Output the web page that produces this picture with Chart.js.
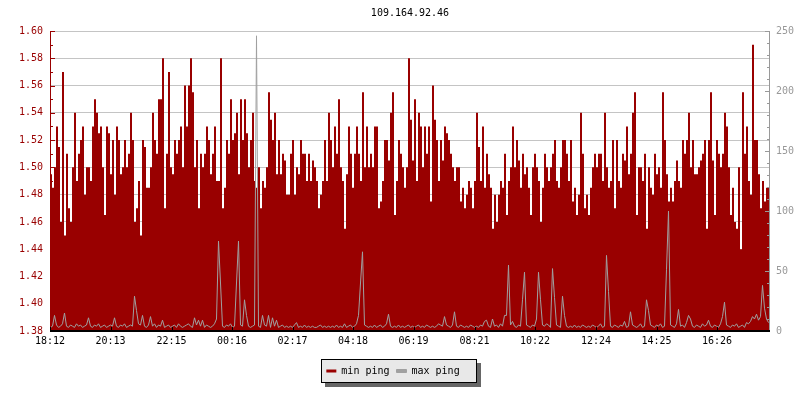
<!DOCTYPE html>
<html>
<head>
<meta charset="utf-8">
<title>109.164.92.46</title>
<script src="https://cdn.jsdelivr.net/npm/chart.js@4.4.1/dist/chart.umd.min.js"></script>
<style>
  html, body { margin: 0; padding: 0; background: #fff; }
</style>
</head>
<body>
<canvas id="ping-chart" width="800" height="400"></canvas>
<script>
/* Data */
const chartTitle = '109.164.92.46';
const startTime = '18:12';
const stepMinutes = 4;   // one sample every 4 minutes
const dayMinutes = 1440;
const timeLabels = ['18:12', '20:13', '22:15', '00:16', '02:17', '04:18',
                    '06:19', '08:21', '10:22', '12:24', '14:25', '16:26'];
const seriesNames = ['min ping', 'max ping'];

// min ping, left axis
const minPing = [
  1.48, 1.495, 1.485, 1.50, 1.53, 1.515, 1.46, 1.57, 1.45, 1.51,
  1.47, 1.46, 1.50, 1.54, 1.49, 1.51, 1.52, 1.53, 1.48, 1.50,
  1.50, 1.49, 1.53, 1.55, 1.54, 1.525, 1.53, 1.50, 1.465, 1.53,
  1.525, 1.495, 1.52, 1.48, 1.53, 1.52, 1.495, 1.50, 1.52, 1.50,
  1.51, 1.54, 1.52, 1.46, 1.47, 1.49, 1.45, 1.52, 1.515, 1.485,
  1.485, 1.50, 1.54, 1.52, 1.51, 1.55, 1.55, 1.58, 1.47, 1.51,
  1.57, 1.50, 1.495, 1.52, 1.51, 1.52, 1.53, 1.50, 1.56, 1.53,
  1.56, 1.58, 1.555, 1.50, 1.52, 1.47, 1.51, 1.50, 1.51, 1.53,
  1.52, 1.495, 1.51, 1.53, 1.49, 1.49, 1.58, 1.47, 1.485, 1.52,
  1.51, 1.55, 1.52, 1.525, 1.54, 1.495, 1.55, 1.52, 1.55, 1.525,
  1.50, 1.52, 1.54, 1.49, 1.485, 1.50, 1.47, 1.49, 1.485, 1.50,
  1.555, 1.535, 1.52, 1.54, 1.495, 1.52, 1.495, 1.51, 1.505, 1.48,
  1.48, 1.51, 1.52, 1.48, 1.50, 1.495, 1.52, 1.51, 1.51, 1.49,
  1.51, 1.49, 1.505, 1.50, 1.49, 1.47, 1.48, 1.49, 1.52, 1.49,
  1.54, 1.52, 1.50, 1.53, 1.51, 1.55, 1.50, 1.49, 1.455, 1.495,
  1.53, 1.51, 1.485, 1.51, 1.53, 1.51, 1.49, 1.555, 1.50, 1.53,
  1.50, 1.51, 1.50, 1.53, 1.53, 1.47, 1.475, 1.49, 1.52, 1.52,
  1.505, 1.54, 1.555, 1.465, 1.49, 1.52, 1.51, 1.50, 1.485, 1.50,
  1.58, 1.535, 1.505, 1.55, 1.49, 1.54, 1.53, 1.50, 1.53, 1.51,
  1.53, 1.475, 1.56, 1.535, 1.52, 1.49, 1.52, 1.505, 1.53, 1.525,
  1.52, 1.51, 1.50, 1.49, 1.50, 1.50, 1.475, 1.485, 1.47, 1.48,
  1.49, 1.485, 1.47, 1.49, 1.54, 1.515, 1.49, 1.53, 1.485, 1.51,
  1.495, 1.485, 1.455, 1.48, 1.46, 1.48, 1.49, 1.485, 1.51, 1.465,
  1.49, 1.50, 1.53, 1.50, 1.52, 1.505, 1.485, 1.51, 1.495, 1.50,
  1.485, 1.465, 1.50, 1.51, 1.50, 1.49, 1.46, 1.485, 1.51, 1.50,
  1.49, 1.50, 1.51, 1.52, 1.49, 1.485, 1.50, 1.52, 1.52, 1.51,
  1.49, 1.52, 1.475, 1.485, 1.465, 1.48, 1.54, 1.51, 1.47, 1.48,
  1.465, 1.485, 1.50, 1.51, 1.50, 1.51, 1.51, 1.49, 1.54, 1.50,
  1.485, 1.49, 1.52, 1.47, 1.52, 1.49, 1.485, 1.51, 1.505, 1.53,
  1.495, 1.51, 1.54, 1.555, 1.465, 1.50, 1.50, 1.49, 1.51, 1.455,
  1.50, 1.485, 1.48, 1.51, 1.495, 1.50, 1.485, 1.555, 1.52, 1.495,
  1.475, 1.485, 1.475, 1.49, 1.505, 1.49, 1.485, 1.52, 1.51, 1.52,
  1.54, 1.50, 1.52, 1.495, 1.495, 1.50, 1.505, 1.51, 1.52, 1.455,
  1.52, 1.555, 1.505, 1.465, 1.52, 1.51, 1.50, 1.51, 1.54, 1.53,
  1.50, 1.465, 1.485, 1.46, 1.455, 1.50, 1.44, 1.555, 1.51, 1.53,
  1.49, 1.48, 1.59, 1.52, 1.52, 1.495, 1.47, 1.49, 1.475, 1.485
];

// max ping, right axis
const maxPing = [
  3, 4, 13, 5, 3, 4, 6, 15, 4, 3, 5, 4, 3, 6, 4, 5, 3, 4, 5, 11,
  4, 3, 5, 4, 6, 3, 4, 5, 3, 4, 5, 4, 11, 4, 3, 5, 4, 6, 3, 4,
  5, 4, 29, 17, 6, 5, 13, 4, 3, 5, 12, 4, 6, 3, 5, 4, 9, 3, 4, 5,
  3, 4, 5, 3, 6, 4, 3, 4, 5, 6, 4, 3, 11, 5, 9, 4, 9, 3, 5, 4,
  3, 4, 6, 10, 75, 40, 4, 3, 5, 4, 6, 3, 4, 40, 75, 5, 4, 26, 13, 4,
  3, 4, 5, 246, 4, 3, 13, 5, 4, 13, 3, 11, 4, 9, 3, 4, 5, 3, 4, 3,
  4, 3, 5, 7, 3, 4, 3, 5, 3, 4, 3, 4, 3, 3, 4, 5, 3, 4, 3, 4,
  3, 4, 3, 5, 3, 4, 3, 6, 3, 4, 5, 3, 4, 6, 13, 40, 66, 5, 4, 3,
  4, 3, 5, 3, 4, 5, 3, 4, 6, 14, 4, 3, 4, 3, 5, 3, 4, 3, 4, 5,
  3, 4, 3, 4, 5, 3, 4, 3, 5, 4, 3, 4, 3, 4, 6, 5, 4, 12, 5, 4,
  3, 5, 16, 4, 3, 5, 4, 3, 4, 3, 5, 4, 3, 4, 3, 5, 4, 8, 9, 4,
  3, 10, 4, 5, 3, 6, 4, 13, 13, 55, 5, 8, 4, 3, 5, 4, 26, 49, 5, 4,
  3, 5, 4, 10, 49, 26, 5, 4, 6, 5, 3, 52, 28, 5, 4, 3, 29, 13, 4, 3,
  4, 3, 5, 3, 4, 3, 5, 4, 3, 4, 3, 5, 4, 3, 4, 6, 3, 4, 63, 33,
  4, 3, 5, 4, 3, 5, 4, 8, 3, 4, 16, 5, 4, 3, 4, 6, 3, 4, 26, 17,
  5, 4, 3, 5, 4, 6, 3, 4, 51, 100, 5, 4, 3, 6, 18, 4, 5, 3, 7, 13,
  10, 4, 3, 5, 4, 3, 6, 4, 5, 9, 4, 3, 5, 4, 3, 6, 12, 24, 5, 4,
  3, 5, 4, 6, 3, 4, 5, 3, 7, 6, 8, 12, 10, 14, 9, 12, 38, 19, 10, 7
];

// Setup
function minutesFromStart(label) {
  const toMin = s => +s.slice(0, 2) * 60 + +s.slice(3, 5);
  return (toMin(label) - toMin(startTime) + dayMinutes) % dayMinutes;
}

// stepped fill: one extra point closes the last step
function toSteps(values) {
  const pts = values.map((v, i) => ({x: i * stepMinutes, y: v}));
  pts.push({x: values.length * stepMinutes, y: values[values.length - 1]});
  return pts;
}

// plain line: one point in the middle of each sample slot
function toLine(values) {
  return values.map((v, i) => ({x: i * stepMinutes + stepMinutes / 2 - 1, y: v}));
}

const font = "'DejaVu Sans Mono', monospace";
Chart.defaults.font.family = font;
Chart.defaults.font.size = 10;

const legendShift = 7;

// axis lines, inward ticks, title and the boxed legend
const decorations = {
  id: 'decorations',
  afterUpdate(chart) {
    const lg = chart.legend;
    lg.left -= legendShift;
    lg.right -= legendShift;
    lg.legendHitBoxes.forEach(b => { b.left -= legendShift; });
  },
  beforeDraw(chart) {
    const ctx = chart.ctx;
    const boxes = chart.legend.legendHitBoxes;
    if (boxes && boxes.length) {
      const l = Math.round(Math.min(...boxes.map(b => b.left))) - 5;
      const r = Math.round(Math.max(...boxes.map(b => b.left + b.width))) + 17;
      const t = Math.round(Math.min(...boxes.map(b => b.top))) - 7;
      const btm = Math.round(Math.max(...boxes.map(b => b.top + b.height))) + 7;
      ctx.save();
      ctx.fillStyle = '#666666';
      ctx.fillRect(l + 4, t + 4, r - l, btm - t);
      ctx.fillStyle = '#e8e8e8';
      ctx.fillRect(l, t, r - l, btm - t);
      ctx.strokeStyle = '#000';
      ctx.lineWidth = 1;
      ctx.strokeRect(l + 0.5, t + 0.5, r - l - 1, btm - t - 1);
      ctx.restore();
    }
  },
  afterDatasetsDraw(chart) {
    const {ctx, chartArea: a, scales} = chart;
    const seg = (x1, y1, x2, y2) => { ctx.beginPath(); ctx.moveTo(x1, y1); ctx.lineTo(x2, y2); ctx.stroke(); };
    ctx.save();
    ctx.lineWidth = 1;

    // left axis
    ctx.strokeStyle = '#990000';
    seg(a.left + 0.5, a.top, a.left + 0.5, a.bottom);
    const yt = scales.y.ticks.map(t => t.value);
    yt.forEach((v, i) => {
      const py = Math.round(scales.y.getPixelForValue(v)) + 0.5;
      seg(a.left, py, a.left + 5, py);
      if (i < yt.length - 1) {
        const my = Math.round(scales.y.getPixelForValue((v + yt[i + 1]) / 2)) + 0.5;
        seg(a.left, my, a.left + 3, my);
      }
    });

    // right axis
    ctx.strokeStyle = '#999999';
    seg(a.right - 0.5, a.top, a.right - 0.5, a.bottom);
    const rt = scales.y1.ticks.map(t => t.value);
    rt.forEach((v, i) => {
      const py = Math.round(scales.y1.getPixelForValue(v)) + 0.5;
      seg(a.right - 5, py, a.right, py);
      if (i < rt.length - 1) {
        for (let k = 1; k < 5; k++) {
          const my = Math.round(scales.y1.getPixelForValue(v + (rt[i + 1] - v) * k / 5)) + 0.5;
          seg(a.right - 3, my, a.right, my);
        }
      }
    });

    // bottom axis
    ctx.strokeStyle = '#000';
    ctx.lineWidth = 2;
    seg(a.left, a.bottom, a.right, a.bottom);
    ctx.lineWidth = 1;
    scales.x.ticks.forEach(t => {
      const px = Math.round(scales.x.getPixelForValue(t.value)) + 0.5;
      seg(px, a.bottom, px, a.bottom - 4);
    });

    // title
    ctx.fillStyle = '#000';
    ctx.font = '10px ' + font;
    ctx.textAlign = 'center';
    ctx.textBaseline = 'middle';
    ctx.fillText(chartTitle, (a.left + a.right) / 2, 13);
    ctx.restore();
  }
};

const data = {
  datasets: [
    {
      label: seriesNames[0],
      data: toSteps(minPing),
      yAxisID: 'y',
      stepped: 'after',
      fill: 'start',
      backgroundColor: '#990000',
      borderColor: '#990000',
      borderWidth: 0,
      pointRadius: 0,
      order: 2
    },
    {
      label: seriesNames[1],
      data: toLine(maxPing),
      yAxisID: 'y1',
      fill: false,
      tension: 0,
      backgroundColor: '#a0a0a0',
      borderColor: '#a0a0a0',
      borderWidth: 1,
      pointRadius: 0,
      order: 1
    }
  ]
};

// Config
const config = {
  type: 'line',
  data: data,
  options: {
    responsive: false,
    animation: false,
    layout: {
      padding: {top: 31, bottom: 14, left: 0, right: 0}
    },
    plugins: {
      title: {display: false},
      tooltip: {enabled: false},
      legend: {
        position: 'bottom',
        labels: {
          boxWidth: 10,
          boxHeight: 3,
          padding: 7,
          color: '#000',
          font: {size: 10},
          sort: (a, b) => a.datasetIndex - b.datasetIndex
        }
      }
    },
    scales: {
      x: {
        type: 'linear',
        min: 0,
        max: dayMinutes,
        grid: {display: false, drawTicks: false},
        border: {display: false},
        afterBuildTicks: s => { s.ticks = timeLabels.map(t => ({value: minutesFromStart(t)})); },
        afterFit: s => { s.height += 8; },
        ticks: {
          autoSkip: false,
          maxRotation: 0,
          padding: 4,
          color: '#000',
          callback: (v, i) => timeLabels[i]
        }
      },
      y: {
        position: 'left',
        min: 1.38,
        max: 1.60,
        grid: {color: '#c4c4c4', drawTicks: false},
        border: {display: false},
        afterFit: s => { s.width = 50; },
        ticks: {
          stepSize: 0.02,
          padding: 7,
          color: '#990000',
          callback: v => v.toFixed(2)
        }
      },
      y1: {
        position: 'right',
        min: 0,
        max: 250,
        grid: {display: false, drawTicks: false},
        border: {display: false},
        afterFit: s => { s.width = 30; },
        ticks: {
          stepSize: 50,
          padding: 6,
          color: '#999999'
        }
      }
    }
  },
  plugins: [decorations]
};

// Chart Activation
let ctx = document.getElementById('ping-chart').getContext('2d');
let pingChart = new Chart(ctx, config);
</script>
</body>
</html>
